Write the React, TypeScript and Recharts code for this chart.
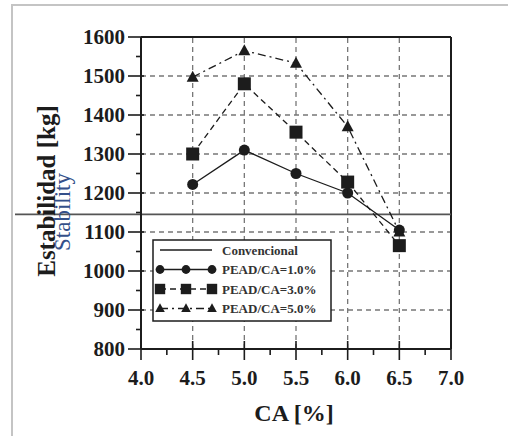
import { LineChart, Line, XAxis, YAxis, ReferenceLine, Label } from "recharts";

// CA [%] content of each mix
const caValues = [4.5, 5.0, 5.5, 6.0, 6.5];
// stability [kg] per PEAD/CA ratio
const pead10 = [1222, 1310, 1250, 1200, 1105];
const pead30 = [1300, 1480, 1356, 1228, 1065];
const pead50 = [1497, 1565, 1533, 1370, 1100];
const convencional = 1145;

const xTicks = [4.0, 4.25, 4.5, 4.75, 5.0, 5.25, 5.5, 5.75, 6.0, 6.25, 6.5, 6.75, 7.0];
const yTicks = [800, 850, 900, 950, 1000, 1050, 1100, 1150, 1200, 1250, 1300, 1350, 1400, 1450, 1500, 1550, 1600];
const xGrid = [4.5, 5.0, 5.5, 6.0, 6.5];
const yGrid = [900, 1000, 1100, 1200, 1300, 1400, 1500];

const data = caValues.map((ca, i) => ({ ca, p10: pead10[i], p30: pead30[i], p50: pead50[i] }));

const INK = "#1c1c1c";
const FONT = "'Liberation Serif', 'Times New Roman', serif";

const series = [
  { key: "p10", label: "PEAD/CA=1.0%", dash: undefined as string | undefined, marker: "circle" },
  { key: "p30", label: "PEAD/CA=3.0%", dash: "6 4", marker: "square" },
  { key: "p50", label: "PEAD/CA=5.0%", dash: "8 4 2 4", marker: "triangle" },
];

function Marker({ kind, cx, cy, s = 1 }: { kind: string; cx: number; cy: number; s?: number }) {
  if (kind === "circle") return <circle cx={cx} cy={cy} r={5.5 * s} fill={INK} />;
  if (kind === "square") return <rect x={cx - 6.5 * s} y={cy - 6.5 * s} width={13 * s} height={13 * s} fill={INK} />;
  return (
    <polygon
      points={`${cx},${cy - 6.5 * s} ${cx - 6 * s},${cy + 4.5 * s} ${cx + 6 * s},${cy + 4.5 * s}`}
      fill={INK}
    />
  );
}

function YTick(props: any) {
  const { x, y, payload } = props;
  const major = payload.value % 100 === 0;
  return (
    <g>
      <line x1={x - (major ? 13 : 5)} x2={x + (major ? 3 : 0)} y1={y} y2={y} stroke={INK} strokeWidth={1.6} />
      {major && (
        <text x={x - 16} y={y} dy="0.35em" textAnchor="end" fontFamily={FONT} fontWeight="bold" fontSize={21} fill={INK}>
          {payload.value}
        </text>
      )}
    </g>
  );
}

function XTick(props: any) {
  const { x, y, payload } = props;
  const v = payload.value;
  const major = Math.abs(v * 2 - Math.round(v * 2)) < 1e-6;
  return (
    <g>
      <line x1={x} x2={x} y1={y - (major ? 8 : 0)} y2={y + (major ? 11 : 6)} stroke={INK} strokeWidth={1.6} />
      {major && (
        <text x={x} y={y + 36} textAnchor="middle" fontFamily={FONT} fontWeight="bold" fontSize={21} fill={INK}>
          {v.toFixed(1)}
        </text>
      )}
    </g>
  );
}

function LegendBox() {
  const rows = [{ key: "conv", label: "Convencional", dash: undefined as string | undefined, marker: "" }, ...series];
  return (
    <svg width={180} height={83} style={{ position: "absolute", left: 152, top: 239 }}>
      <rect x={1} y={1} width={178} height={81} fill="#fff" stroke={INK} strokeWidth={1.5} />
      {rows.map((r, i) => {
        const y = 11 + i * 19.5;
        return (
          <g key={r.key}>
            <line x1={8} x2={60} y1={y} y2={y} stroke={INK} strokeWidth={1.3} strokeDasharray={r.dash} />
            {r.marker && [8, 34, 60].map((mx) => <Marker key={mx} kind={r.marker} cx={mx} cy={y} s={0.8} />)}
            <text x={70} y={y} dy="0.35em" fontFamily={FONT} fontWeight="bold" fontSize={13} fill="#333">
              {r.label}
            </text>
          </g>
        );
      })}
    </svg>
  );
}

export default function App() {
  return (
    <div style={{ position: "absolute", left: 0, top: 0, width: 508, height: 436, background: "#fff", overflow: "hidden" }}>
      <div style={{ position: "absolute", left: 11, top: 4, width: 560, height: 500, border: "2px solid #c4c4c4" }} />
      <div style={{ position: "absolute", left: 0, top: 0 }}>
        <LineChart width={508} height={436} data={data} margin={{ top: 37, right: 57, left: 81, bottom: 47 }}>
          {yGrid.map((v) => (
            <ReferenceLine key={"gy" + v} y={v} stroke="#777" strokeWidth={1.3} strokeDasharray="5 4" />
          ))}
          {xGrid.map((v) => (
            <ReferenceLine key={"gx" + v} x={v} stroke="#777" strokeWidth={1.3} strokeDasharray="5 4" />
          ))}
          <ReferenceLine y={1600} stroke={INK} strokeWidth={2} />
          <ReferenceLine x={7.0} stroke={INK} strokeWidth={2} />
          <ReferenceLine
            y={convencional}
            stroke="#555"
            strokeWidth={1.8}
            shape={(p: any) => <line x1={15} x2={p.x2} y1={p.y1} y2={p.y2} stroke="#555" strokeWidth={1.8} />}
          />
          <XAxis
            dataKey="ca"
            type="number"
            domain={[4, 7]}
            ticks={xTicks}
            interval={0}
            height={40}
            tickSize={0}
            tickMargin={0}
            tick={<XTick />}
            axisLine={{ stroke: INK, strokeWidth: 2 }}
          >
            <Label
              content={() => (
                <text x={294} y={421} textAnchor="middle" fontFamily={FONT} fontWeight="bold" fontSize={24} fill={INK}>
                  CA [%]
                </text>
              )}
            />
          </XAxis>
          <YAxis
            type="number"
            domain={[800, 1600]}
            ticks={yTicks}
            interval={0}
            width={60}
            tickSize={0}
            tickMargin={0}
            tick={<YTick />}
            axisLine={{ stroke: INK, strokeWidth: 2 }}
          >
            <Label
              content={() => (
                <g>
                  <text
                    transform="translate(55,191) rotate(-90)"
                    textAnchor="middle"
                    fontFamily={FONT}
                    fontWeight="bold"
                    fontSize={25}
                    fill={INK}
                  >
                    Estabilidad [kg]
                  </text>
                  <text
                    transform="translate(70,212) rotate(-90)"
                    textAnchor="middle"
                    fontFamily={FONT}
                    fontSize={23}
                    fill="#34508a"
                  >
                    Stability
                  </text>
                </g>
              )}
            />
          </YAxis>
          {series.map((s) => (
            <Line
              key={s.key}
              dataKey={s.key}
              stroke={INK}
              strokeWidth={1.3}
              strokeDasharray={s.dash}
              isAnimationActive={false}
              dot={(p: any) => <Marker key={s.key + p.index} kind={s.marker} cx={p.cx} cy={p.cy} />}
              activeDot={false}
            />
          ))}
        </LineChart>
      </div>
      <LegendBox />
    </div>
  );
}
